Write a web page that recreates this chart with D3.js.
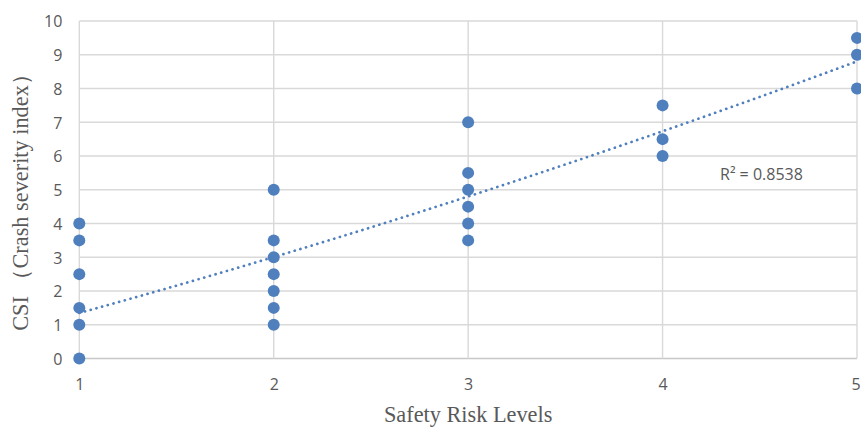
<!DOCTYPE html>
<html>
<head>
<meta charset="utf-8">
<script src="https://cdn.jsdelivr.net/npm/d3@7"></script>
<style>
  body { margin: 0; background: #fff; }
  .tick text { font-family: "Open Sans", sans-serif; font-size: 16px; fill: #595959; }
  .axis-title { font-family: "Liberation Serif", "Times New Roman", serif; font-size: 22.3px; fill: #595959; }
</style>
</head>
<body>
<div id="chart"></div>
<script>
// safety risk level (x) and crash severity index (y) for each observation
var riskLevels = [1, 1, 1, 1, 1, 1,
                  2, 2, 2, 2, 2, 2, 2,
                  3, 3, 3, 3, 3, 3,
                  4, 4, 4,
                  5, 5, 5];
var csiValues  = [0, 1, 1.5, 2.5, 3.5, 4,
                  1, 1.5, 2, 2.5, 3, 3.5, 5,
                  3.5, 4, 4.5, 5, 5.5, 7,
                  6, 6.5, 7.5,
                  8, 9, 9.5];

// trendline coefficients (y = a*x^2 + b*x + c)
var trendA = 0.069;
var trendB = 1.45;
var trendC = -0.17;
var rSquared = "0.8538";

var xTicks = [1, 2, 3, 4, 5];
var yTicks = [0, 1, 2, 3, 4, 5, 6, 7, 8, 9, 10];

// set the dimensions and margins of the chart
var width = 861, height = 430;
var margin = {top: 21, right: 4, bottom: 72, left: 79};

var svg = d3.select("#chart").append("svg")
    .attr("width", width)
    .attr("height", height);

var x = d3.scaleLinear()
    .domain([1, 5])
    .range([margin.left + 0.3, width - margin.right]);

var y = d3.scaleLinear()
    .domain([0, 10])
    .range([height - margin.bottom + 0.5, margin.top]);

// gridlines
svg.append("g")
    .selectAll("line.hgrid")
    .data(yTicks)
    .enter().append("line")
    .attr("x1", x(1)).attr("x2", x(5))
    .attr("y1", function(d) { return y(d); })
    .attr("y2", function(d) { return y(d); })
    .attr("stroke", function(d) { return d === 0 ? "#c8c8c8" : "#d9d9d9"; })
    .attr("stroke-width", 1.4);

svg.append("g")
    .selectAll("line.vgrid")
    .data(xTicks)
    .enter().append("line")
    .attr("x1", function(d) { return x(d); })
    .attr("x2", function(d) { return x(d); })
    .attr("y1", y(0)).attr("y2", y(10))
    .attr("stroke", "#d9d9d9")
    .attr("stroke-width", 1.4);

// axes (labels only, lines drawn as grid above)
var yAxis = svg.append("g")
    .attr("transform", "translate(" + (x(1) - 12) + ",0)")
    .call(d3.axisLeft(y).tickValues(yTicks).tickSize(0).tickPadding(5));
yAxis.select(".domain").remove();
yAxis.selectAll(".tick text").attr("dy", "0.36em");

var xAxis = svg.append("g")
    .attr("transform", "translate(0," + (y(0) + 16) + ")")
    .call(d3.axisBottom(x).tickValues(xTicks).tickFormat(d3.format("d")).tickSize(0).tickPadding(4));
xAxis.select(".domain").remove();
// keep the last label inside the window
xAxis.selectAll(".tick text").filter(function(d) { return d === 5; }).attr("x", -1.5);

// points
var points = riskLevels.map(function(d, i) { return [d, csiValues[i]]; });

svg.append("g")
    .selectAll("circle")
    .data(points)
    .enter().append("circle")
    .attr("cx", function(d) { return x(d[0]); })
    .attr("cy", function(d) { return y(d[1]); })
    .attr("r", 6)
    .attr("fill", "#4f7fbd");

// trendline
var trend = d3.line()
    .x(function(d) { return x(d); })
    .y(function(d) { return y(trendA * d * d + trendB * d + trendC); });

svg.append("path")
    .datum(d3.range(1, 5.001, 0.05))
    .attr("d", trend)
    .attr("fill", "none")
    .attr("stroke", "#4f7fbd")
    .attr("stroke-width", 2.7)
    .attr("stroke-linecap", "round")
    .attr("stroke-dasharray", "0.1 5.8");

svg.append("text")
    .attr("x", 720)
    .attr("y", 180)
    .style("font-family", "'Open Sans', sans-serif")
    .style("font-size", "16px")
    .style("fill", "#595959")
    .text("R² = " + rSquared);

// axis titles
svg.append("text")
    .attr("class", "axis-title")
    .attr("x", (x(1) + x(5)) / 2)
    .attr("y", 422)
    .attr("text-anchor", "middle")
    .text("Safety Risk Levels");

svg.append("text")
    .attr("class", "axis-title")
    .attr("transform", "translate(28," + 197 + ") rotate(-90)")
    .attr("text-anchor", "middle")
    .text("CSI （Crash severity index）");
</script>
</body>
</html>
